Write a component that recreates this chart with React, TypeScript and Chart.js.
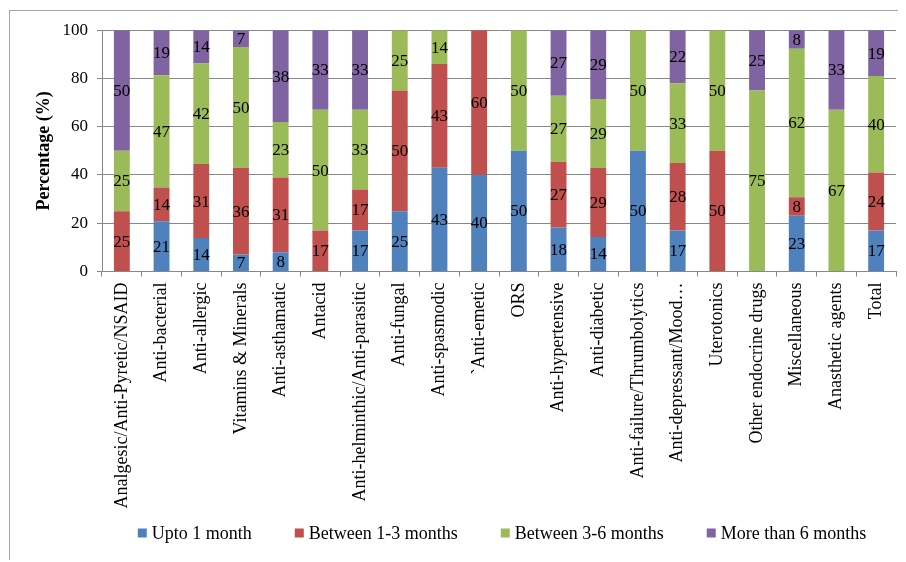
import React, { useEffect, useRef } from 'react';
import { Chart, registerables } from 'chart.js';

Chart.register(...registerables);

const categories = [
  'Analgesic/Anti-Pyretic/NSAID',
  'Anti-bacterial',
  'Anti-allergic',
  'Vitamins & Minerals',
  'Anti-asthamatic',
  'Antacid',
  'Anti-helminthic/Anti-parasitic',
  'Anti-fungal',
  'Anti-spasmodic',
  '`Anti-emetic',
  'ORS',
  'Anti-hypertensive',
  'Anti-diabetic',
  'Anti-failure/Thrumbolytics',
  'Anti-depressant/Mood…',
  'Uterotonics',
  'Other endocrine drugs',
  'Miscellaneous',
  'Anasthetic agents',
  'Total',
];

const uptoOneMonth = [0, 20.8, 13.9, 7, 8, 0, 17, 25, 43, 40, 50, 18.2, 14.3, 50, 17, 0, 0, 23.1, 0, 17];
const betweenOneThree = [25, 14, 30.6, 36, 31, 17, 17, 50, 43, 60, 0, 27.3, 28.6, 0, 28, 50, 0, 7.7, 0, 24];
const betweenThreeSix = [25, 46.5, 41.7, 50, 23, 50, 33, 25, 14, 0, 50, 27.3, 28.6, 50, 33, 50, 75, 61.5, 67, 40];
const moreThanSix = [50, 18.7, 13.8, 7, 38, 33, 33, 0, 0, 0, 0, 27.2, 28.5, 0, 22, 0, 25, 7.7, 33, 19];

const seriesNames = ['Upto 1 month', 'Between 1-3 months', 'Between 3-6 months', 'More than 6 months'];
const seriesColors = ['#4F81BD', '#C0504D', '#9BBB59', '#8064A2'];

const yMin = 0;
const yMax = 100;
const yStep = 20;

const FONT = "'Liberation Serif', 'Times New Roman', serif";
const GRID = '#878787';

const segmentLabels = {
  id: 'segmentLabels',
  afterDatasetsDraw(chart: any) {
    const { ctx, chartArea } = chart;
    ctx.save();
    ctx.font = `17px ${FONT}`;
    ctx.fillStyle = '#000';
    ctx.textAlign = 'center';
    ctx.textBaseline = 'middle';
    chart.data.datasets.forEach((ds: any, i: number) => {
      const meta = chart.getDatasetMeta(i);
      meta.data.forEach((el: any, j: number) => {
        const v = ds.data[j];
        if (!v) return;
        const top = Math.max(Math.min(el.y, el.base), chartArea.top);
        const bottom = Math.min(Math.max(el.y, el.base), chartArea.bottom);
        ctx.fillText(String(Math.round(v)), el.x, (top + bottom) / 2 + 1);
      });
    });
    ctx.restore();
  },
};

const bottomLegend = {
  id: 'bottomLegend',
  afterDraw(chart: any) {
    const { ctx, chartArea } = chart;
    ctx.save();
    ctx.font = `18px ${FONT}`;
    ctx.textBaseline = 'middle';
    ctx.textAlign = 'left';
    const box = 9;
    const gapText = 5;
    const gapItem = 43;
    const ds = chart.data.datasets;
    const widths = ds.map((d: any) => box + gapText + ctx.measureText(d.label).width);
    const total = widths.reduce((a: number, b: number) => a + b, 0) + gapItem * (ds.length - 1);
    let x = (chartArea.left + chartArea.right) / 2 + 3 - total / 2;
    const y = 522;
    ds.forEach((d: any, i: number) => {
      ctx.fillStyle = d.backgroundColor;
      ctx.fillRect(x, y - box / 2, box, box);
      ctx.fillStyle = '#000';
      ctx.fillText(d.label, x + box + gapText, y + 1);
      x += widths[i] + gapItem;
    });
    ctx.restore();
  },
};

export default function App() {
  const canvasRef = useRef<HTMLCanvasElement | null>(null);

  useEffect(() => {
    if (!canvasRef.current) return;
    const series = [uptoOneMonth, betweenOneThree, betweenThreeSix, moreThanSix];
    const chart = new Chart(canvasRef.current, {
      type: 'bar',
      data: {
        labels: categories,
        datasets: series.map((data, i) => ({
          label: seriesNames[i],
          data,
          backgroundColor: seriesColors[i],
          borderWidth: 0,
          barPercentage: 0.4,
          categoryPercentage: 1.0,
        })),
      },
      options: {
        animation: false,
        responsive: true,
        maintainAspectRatio: false,
        layout: { padding: { left: 0, top: 19, right: 10, bottom: 0 } },
        plugins: {
          legend: { display: false },
          tooltip: { enabled: false },
        },
        scales: {
          x: {
            stacked: true,
            grid: {
              display: true,
              drawOnChartArea: false,
              drawTicks: true,
              tickLength: 5,
              color: GRID,
              offset: true,
            },
            border: { display: true, color: GRID },
            ticks: {
              autoSkip: false,
              minRotation: 90,
              maxRotation: 90,
              padding: 6,
              color: '#000',
              font: { family: FONT, size: 18 },
            },
            afterFit(scale: any) {
              scale.height = 290.5;
            },
          },
          y: {
            stacked: true,
            min: yMin,
            max: yMax,
            ticks: {
              stepSize: yStep,
              padding: 9,
              color: '#000',
              font: { family: FONT, size: 17 },
            },
            grid: { color: GRID, tickLength: 5 },
            border: { display: true, color: GRID },
            title: {
              display: true,
              text: 'Percentage (%)',
              color: '#000',
              font: { family: FONT, size: 18, weight: 'bold' },
              padding: { top: 24, bottom: 0 },
            },
            afterFit(scale: any) {
              scale.width = 92;
            },
          },
        },
      },
      plugins: [segmentLabels, bottomLegend],
    } as any);
    return () => chart.destroy();
  }, []);

  return (
    <div
      style={{
        position: 'relative',
        left: 1,
        top: 2,
        width: 897,
        height: 552,
        borderLeft: '1px solid #a6a6a6',
        borderTop: '1px solid #a6a6a6',
        boxSizing: 'border-box',
      }}
    >
      <div style={{ position: 'absolute', left: 0, top: 0, width: 896, height: 551 }}>
        <canvas ref={canvasRef} />
      </div>
    </div>
  );
}
